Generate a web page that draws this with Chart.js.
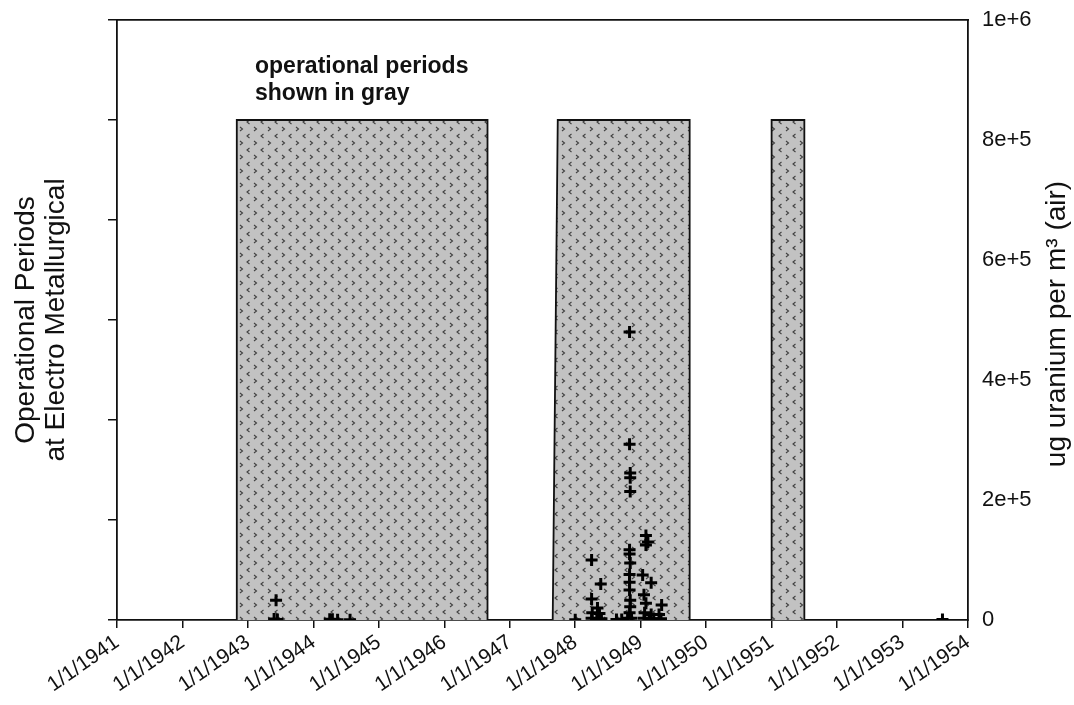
<!DOCTYPE html>
<html>
<head>
<meta charset="utf-8">
<script src="https://cdn.jsdelivr.net/npm/chart.js@4.4.1/dist/chart.umd.min.js"></script>
<style>
  html, body { margin: 0; padding: 0; background: #fff; }
</style>
</head>
<body>
<canvas id="myChart" width="1074" height="705"></canvas>
<script>
// year range on the x axis (ticks shown as 1/1/yyyy)
const firstYear = 1941;
const lastYear = 1954;

// operational periods, left axis: 0 = idle, 5 = operating
const periodYears = [1941, 1942.83, 1942.83, 1946.66, 1946.66, 1947.656, 1947.733, 1949.748, 1949.748, 1951.0, 1951.0, 1951.5, 1951.5, 1954];
const periodLevel = [0, 0, 5, 5, 0, 0, 5, 5, 0, 0, 5, 5, 0, 0];

// air samples, ug uranium per m3
const sampleYears = [
  1943.43, 1943.40, 1943.45,
  1944.25, 1944.29, 1944.37, 1944.56,
  1948.00,
  1948.25, 1948.39, 1948.25, 1948.34, 1948.26, 1948.37, 1948.25, 1948.33, 1948.40,
  1948.63, 1948.71,
  1948.83, 1948.83, 1948.84, 1948.84, 1948.84, 1948.83, 1948.83, 1948.84, 1948.83, 1948.83, 1948.83, 1948.84, 1948.84, 1948.83, 1948.80, 1948.86,
  1949.03, 1949.16, 1949.05, 1949.08, 1949.32,
  1949.08, 1949.11, 1949.08,
  1949.06, 1949.16, 1949.28, 1949.05, 1949.13, 1949.20, 1949.31,
  1953.61
];
const sampleValues = [
  33000, 1500, 1000,
  1200, 800, 600, 500,
  500,
  100000, 60000, 35000, 20000, 12000, 11000, 3000, 2500, 2000,
  800, 800,
  480000, 293000, 245000, 237000, 214000, 117000, 110000, 95000, 76000, 63000, 50000, 33000, 22000, 12000, 3000, 3000,
  75000, 62000, 42000, 28000, 25000,
  141000, 130000, 125000,
  12000, 9000, 9000, 3000, 2000, 2000, 2000,
  1000
];

const rightMax = 1000000;
const rightStep = 200000;

const FONT = '"Liberation Sans", Arial, sans-serif';

// gray fill with small staggered chevrons
function makePattern() {
  const c = document.createElement('canvas');
  c.width = 14; c.height = 14;
  const g = c.getContext('2d');
  g.fillStyle = '#c2c2c2';
  g.fillRect(0, 0, 14, 14);
  g.strokeStyle = '#404040';
  g.lineWidth = 1.1;
  function mark(x, y, right) {
    g.beginPath();
    g.moveTo(x + (right ? 0 : 2.5), y);
    g.lineTo(x + (right ? 2.5 : 0), y + 2);
    g.lineTo(x + (right ? 0 : 2.5), y + 4);
    g.stroke();
  }
  mark(2, 1, true);
  mark(9, 8, false);
  return g.createPattern(c, 'repeat');
}

const periodPoints = periodYears.map((x, i) => ({ x: x, y: periodLevel[i] }));
const samplePoints = sampleYears.map((x, i) => ({ x: x, y: sampleValues[i] }));

// text that is not an axis title chart.js can draw the way we need
const extraText = {
  id: 'extraText',
  afterDraw(chart) {
    const ctx = chart.ctx;
    const area = chart.chartArea;
    ctx.save();
    ctx.fillStyle = '#111';
    ctx.font = 'bold 23px ' + FONT;
    ctx.textAlign = 'left';
    ctx.textBaseline = 'alphabetic';
    ctx.fillText('operational periods', area.left + 138, area.top + 53);
    ctx.fillText('shown in gray', area.left + 138, area.top + 80);

    // right axis title, reading bottom to top
    ctx.translate(1057, (area.top + area.bottom) / 2 + 4);
    ctx.rotate(-Math.PI / 2);
    ctx.font = '28px ' + FONT;
    ctx.textAlign = 'center';
    ctx.textBaseline = 'middle';
    ctx.fillText('ug uranium per m\u00B3 (air)', 0, 0);
    ctx.restore();
  }
};

const config = {
  type: 'scatter',
  data: {
    datasets: [
      {
        label: 'air samples',
        data: samplePoints,
        yAxisID: 'y1',
        xAxisID: 'x',
        pointStyle: 'cross',
        pointRadius: 6,
        pointBorderWidth: 3,
        borderColor: '#000',
        backgroundColor: '#000',
        order: 0
      },
      {
        type: 'line',
        label: 'operational periods',
        data: periodPoints,
        yAxisID: 'y',
        xAxisID: 'x',
        borderColor: '#111',
        borderWidth: 1.8,
        backgroundColor: makePattern(),
        fill: 'origin',
        pointRadius: 0,
        tension: 0,
        order: 1
      }
    ]
  },
  options: {
    responsive: false,
    animation: false,
    layout: { padding: 0 },
    plugins: {
      legend: { display: false },
      tooltip: { enabled: false }
    },
    scales: {
      x: {
        type: 'linear',
        position: 'bottom',
        min: firstYear,
        max: lastYear,
        ticks: {
          stepSize: 1,
          autoSkip: false,
          minRotation: 35,
          maxRotation: 35,
          padding: 2,
          color: '#111',
          font: { family: FONT, size: 21 },
          callback: v => '1/1/' + v
        },
        grid: { drawOnChartArea: false, tickLength: 8, color: '#111', lineWidth: 1.5 },
        border: { color: '#111', width: 1.8 },
        afterFit: s => { s.height = 85; }
      },
      x2: {
        type: 'linear',
        position: 'top',
        min: firstYear,
        max: lastYear,
        ticks: { display: false },
        grid: { drawOnChartArea: false, drawTicks: false },
        border: { color: '#111', width: 1.8 },
        afterFit: s => { s.height = 20; }
      },
      y: {
        type: 'linear',
        position: 'left',
        min: 0,
        max: 6,
        ticks: { display: false, stepSize: 1 },
        grid: { drawOnChartArea: false, tickLength: 9, color: '#111', lineWidth: 1.5 },
        border: { color: '#111', width: 1.8 },
        title: {
          display: true,
          text: ['Operational Periods', 'at Electro Metallurgical'],
          color: '#111',
          font: { family: FONT, size: 28, lineHeight: 1.05 },
          padding: { top: 12, bottom: 0 }
        },
        afterFit: s => { s.width = 117; }
      },
      y1: {
        type: 'linear',
        position: 'right',
        min: 0,
        max: rightMax,
        ticks: {
          stepSize: rightStep,
          padding: 14,
          color: '#111',
          font: { family: FONT, size: 22 },
          callback: v => v === 0 ? '0' : v.toExponential()
        },
        grid: { drawOnChartArea: false, drawTicks: false },
        border: { color: '#111', width: 1.8 },
        afterFit: s => { s.width = 106; s.paddingTop = 0; s.paddingBottom = 0; }
      }
    }
  },
  plugins: [extraText]
};

const myChart = new Chart(document.getElementById('myChart'), config);
</script>
</body>
</html>
